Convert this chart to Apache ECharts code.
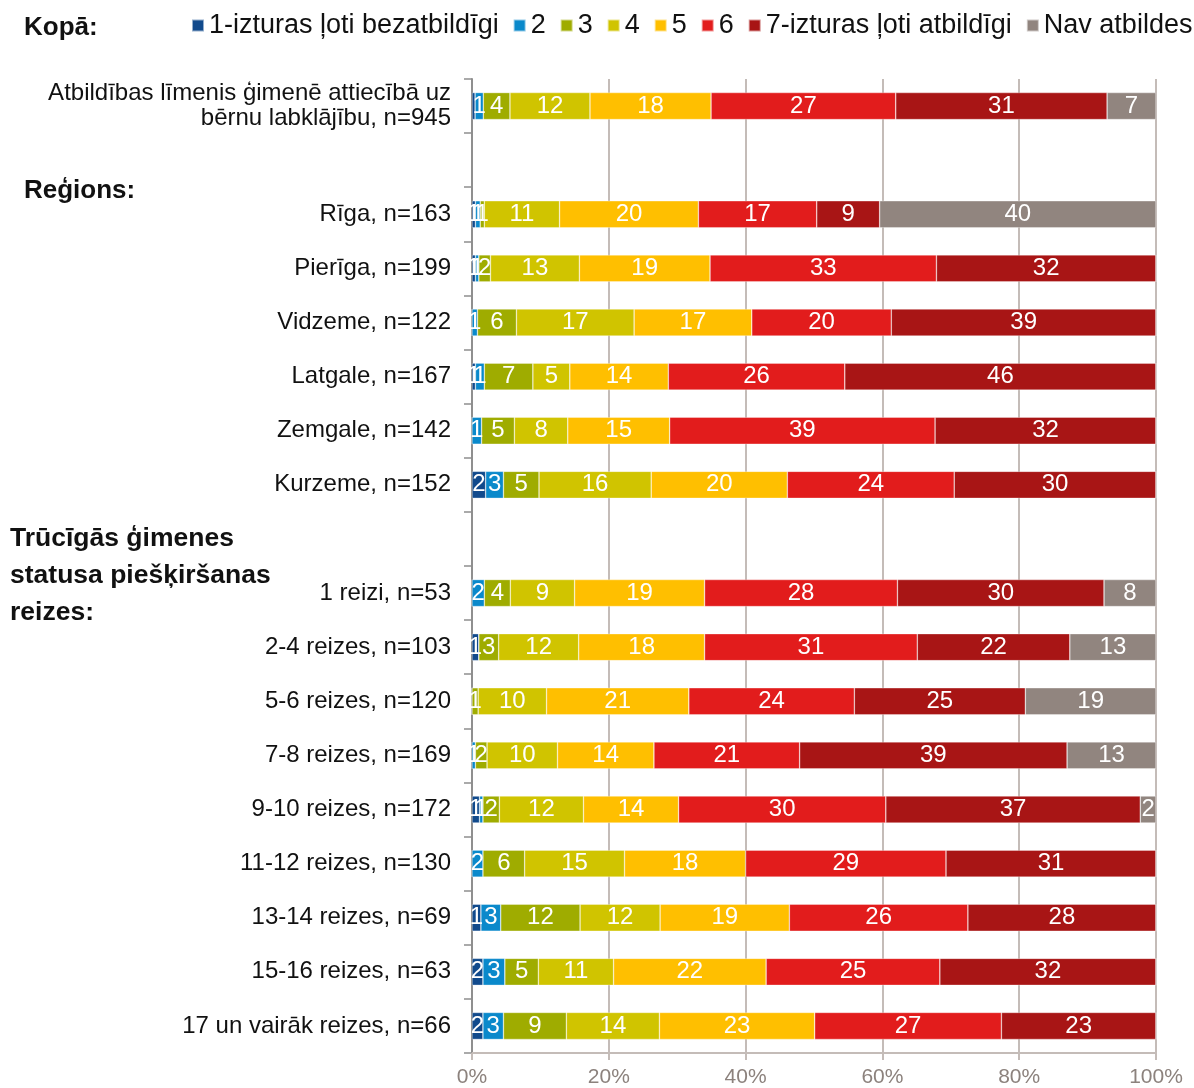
<!DOCTYPE html>
<html>
<head>
<meta charset="utf-8">
<script src="https://cdn.jsdelivr.net/npm/echarts@6/dist/echarts.min.js"></script>
<style>
html,body{margin:0;padding:0;background:#fff;}
#chart{width:1194px;height:1088px;}
</style>
</head>
<body>
<div id="chart"></div>
<script>
const categories = [
  'Atbildības līmenis ģimenē attiecībā uz\nbērnu labklājību, n=945',
  ' ',
  'Rīga, n=163', 'Pierīga, n=199', 'Vidzeme, n=122', 'Latgale, n=167', 'Zemgale, n=142', 'Kurzeme, n=152',
  '  ',
  '1 reizi, n=53', '2-4 reizes, n=103', '5-6 reizes, n=120', '7-8 reizes, n=169', '9-10 reizes, n=172',
  '11-12 reizes, n=130', '13-14 reizes, n=69', '15-16 reizes, n=63', '17 un vairāk reizes, n=66'
];
const seriesNames = ['1-izturas ļoti bezatbildīgi', '2', '3', '4', '5', '6', '7-izturas ļoti atbildīgi', 'Nav atbildes'];
const seriesColors = ['#114a8c', '#0a89cb', '#9fac00', '#d0c400', '#ffbf00', '#e21c1c', '#a81515', '#91857f'];

const v1  = [0.45, null, 0.5, 0.5, 0,   0.5, 0,   2.0, null, 0,   1.0, 0,    0,    1.1,  0,    1.3,  1.6,  1.6];
const v2  = [1.2,  null, 0.7, 0.5, 0.8, 1.3, 1.4, 2.6, null, 1.8, 0,   0,    0.5,  0.5,  1.6,  2.9,  3.2,  3.0];
const v3  = [3.9,  null, 0.6, 1.7, 5.7, 7.1, 4.8, 5.2, null, 3.8, 2.9, 0.9,  1.7,  2.4,  6.1,  11.6, 4.9,  9.2];
const v4  = [11.7, null, 11.0, 13.0, 17.2, 5.4, 7.8, 16.4, null, 9.4, 11.7, 10.0, 10.3, 12.3, 14.6, 11.7, 11.0, 13.6];
const v5  = [17.7, null, 20.3, 19.1, 17.2, 14.4, 14.9, 19.9, null, 19.0, 18.4, 20.8, 14.1, 13.9, 17.7, 18.9, 22.3, 22.7];
const v6  = [27.0, null, 17.3, 33.1, 20.4, 25.8, 38.8, 24.4, null, 28.2, 31.1, 24.2, 21.3, 30.3, 29.3, 26.1, 25.4, 27.3];
const v7  = [30.9, null, 9.2, 32.1, 38.7, 45.5, 32.3, 29.5, null, 30.2, 22.3, 25.0, 39.1, 37.2, 30.7, 27.5, 31.6, 22.6];
const nav = [7.15, null, 40.4, 0, 0, 0, 0, 0, null, 7.6, 12.6, 19.1, 13.0, 2.3, 0, 0, 0, 0];
const seriesValues = [v1, v2, v3, v4, v5, v6, v7, nav];
const xTicks = [0, 20, 40, 60, 80, 100];

const FONT = '"Liberation Sans", Arial, sans-serif';
const chart = echarts.init(document.getElementById('chart'), null, {renderer: 'canvas'});

const series = seriesNames.map((name, i) => ({
  name: name,
  type: 'bar',
  stack: 'total',
  barWidth: 27,
  data: seriesValues[i],
  itemStyle: {color: seriesColors[i], borderColor: 'rgba(255,255,255,0.55)', borderWidth: 0.6},
  label: {
    show: true,
    position: 'inside',
    color: '#fff',
    fontFamily: FONT,
    fontSize: 24,
    formatter: p => {
      if (p.value == null) return '';
      const r = Math.round(p.value);
      return r > 0 ? String(r) : '';
    }
  },
  emphasis: {disabled: true},
  animation: false
}));

chart.setOption({
  animation: false,
  textStyle: {fontFamily: FONT},
  grid: {left: 472, right: 38, top: 79, bottom: 34, containLabel: false},
  legend: {
    data: seriesNames,
    left: 191,
    top: 12,
    icon: 'rect',
    itemWidth: 12,
    itemHeight: 12,
    itemGap: 14,
    padding: 0,
    selectedMode: false,
    textStyle: {fontFamily: FONT, fontSize: 27, color: '#111'}
  },
  xAxis: {
    type: 'value',
    min: xTicks[0],
    max: xTicks[xTicks.length - 1],
    interval: 20,
    axisLine: {show: true, lineStyle: {color: '#c4bcb8', width: 2}},
    axisTick: {show: true, length: 7, lineStyle: {color: '#c4bcb8', width: 2}},
    splitLine: {show: true, lineStyle: {color: '#c4bcb8', width: 2}},
    axisLabel: {formatter: '{value}%', color: '#8c827d', fontSize: 21, margin: 14, fontFamily: FONT}
  },
  yAxis: {
    type: 'category',
    inverse: true,
    data: categories,
    axisLine: {show: true, lineStyle: {color: '#8f8f8f', width: 2}},
    axisTick: {show: true, length: 8, lineStyle: {color: '#8f8f8f', width: 1.5}},
    axisLabel: {fontSize: 24, color: '#111', margin: 21, lineHeight: 25, align: 'right', fontFamily: FONT}
  },
  graphic: [
    {type: 'text', left: 24, top: 15, style: {text: 'Kopā:', font: 'bold 26px ' + FONT, fill: '#111'}},
    {type: 'text', left: 24, top: 178, style: {text: 'Reģions:', font: 'bold 26px ' + FONT, fill: '#111'}},
    {type: 'text', left: 10, top: 520, style: {text: 'Trūcīgās ģimenes\nstatusa piešķiršanas\nreizes:', font: 'bold 26.5px ' + FONT, lineHeight: 37, fill: '#111'}}
  ],
  series: series
});
</script>
</body>
</html>
